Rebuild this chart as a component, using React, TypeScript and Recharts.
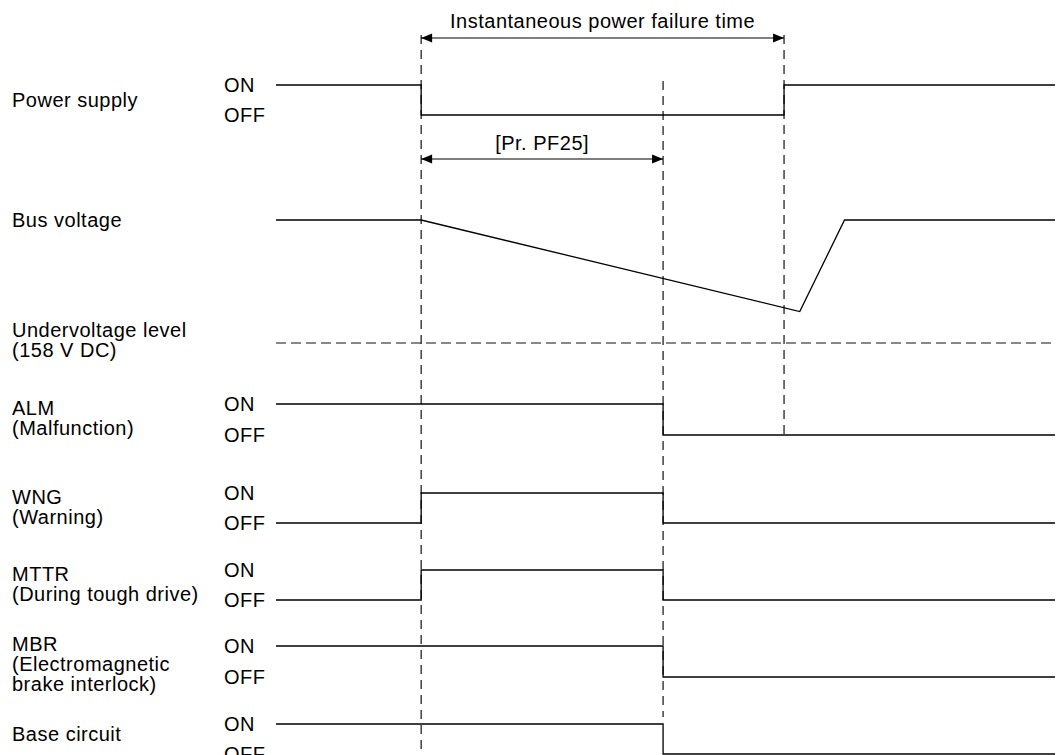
import React from 'react';
import { LineChart, Line, XAxis, YAxis, ReferenceLine } from 'recharts';

// ---------------- data (time in ms, t = 0 : power failure) ----------------
const TIME_START = -120;
const TIME_END = 524;
const T_FAIL = 0;
const T_PF25 = 200;
const T_RESTORE = 300;

const powerTimes = [-120, 0, 300, 524];
const powerStates = [1, 0, 1, 1];

const busTimes = [-120, 0, 313, 350, 524];
const busVolts = [283, 283, 190, 283, 283];
const BUS_NOMINAL = 283;
const UNDERVOLTAGE = 158;

const almTimes = [-120, 200, 524];
const almStates = [1, 0, 0];

const wngTimes = [-120, 0, 200, 524];
const wngStates = [0, 1, 0, 0];

const mttrTimes = [-120, 0, 200, 524];
const mttrStates = [0, 1, 0, 0];

const mbrTimes = [-120, 200, 524];
const mbrStates = [1, 0, 0];

const baseTimes = [-120, 200, 524];
const baseStates = [1, 0, 0];

const signalNames = [
  ['Power supply'],
  ['Bus voltage'],
  ['Undervoltage level', '(158 V DC)'],
  ['ALM', '(Malfunction)'],
  ['WNG', '(Warning)'],
  ['MTTR', '(During tough drive)'],
  ['MBR', '(Electromagnetic', 'brake interlock)'],
  ['Base circuit'],
];
const ON_TEXT = 'ON';
const OFF_TEXT = 'OFF';
const FAILURE_TEXT = 'Instantaneous power failure time';
const PF25_TEXT = '[Pr. PF25]';

// ---------------- layout ----------------
const W = 1057;
const H = 755;
const LABEL_WIDTH = 276;
const FONT = '"Liberation Sans", Arial, Helvetica, sans-serif';
const FONT_SIZE = 20;
const LINE_PITCH = 20;
const NAME_X = 12;
const STATE_X = 224;

// per signal: pixel rows of ON / OFF levels and first-line baseline of the name
const rowLayout = [
  { on: 85, off: 115, name: 107 },
  { on: null, off: null, name: 227 },
  { on: null, off: null, name: 337 },
  { on: 404, off: 435, name: 415 },
  { on: 493, off: 523, name: 504 },
  { on: 570, off: 600, name: 581 },
  { on: 646, off: 677, name: 651 },
  { on: 724, off: 754, name: 741 },
];
const BUS_NOMINAL_PX = 220;
const BUS_UV_PX = 343;
const ARROW_FAIL_PX = 38;
const ARROW_PF25_PX = 159;

function domainThrough(v1: number, px1: number, v0: number, px0: number): [number, number] {
  const slope = (px0 - px1) / (v1 - v0);
  const hi = v1 + px1 / slope;
  const lo = hi - H / slope;
  return [lo, hi];
}

const series = (times: number[], vals: number[]) => times.map((t, i) => ({ t, v: vals[i] }));

const digital = [
  { id: 'power', row: 0, data: series(powerTimes, powerStates) },
  { id: 'alm', row: 3, data: series(almTimes, almStates) },
  { id: 'wng', row: 4, data: series(wngTimes, wngStates) },
  { id: 'mttr', row: 5, data: series(mttrTimes, mttrStates) },
  { id: 'mbr', row: 6, data: series(mbrTimes, mbrStates) },
  { id: 'base', row: 7, data: series(baseTimes, baseStates) },
];

const busData = series(busTimes, busVolts);
const uvData = [
  { t: TIME_START, v: UNDERVOLTAGE },
  { t: TIME_END, v: UNDERVOLTAGE },
];

// frame elements on the pixel-row ("lanes") axis
const vFail = [{ t: T_FAIL, v: 35 }, { t: T_FAIL, v: H }];
const vPf25 = [{ t: T_PF25, v: 81 }, { t: T_PF25, v: 717 }];
const vRestore = [{ t: T_RESTORE, v: 35 }, { t: T_RESTORE, v: 438 }];
const arrowFail = [{ t: T_FAIL, v: ARROW_FAIL_PX }, { t: T_RESTORE, v: ARROW_FAIL_PX }];
const arrowPf25 = [{ t: T_FAIL, v: ARROW_PF25_PX }, { t: T_PF25, v: ARROW_PF25_PX }];

const textStyle = { fontFamily: FONT, fontSize: FONT_SIZE, fill: '#000', letterSpacing: 0.5 };

const LabelTick = (props: any) => {
  const { payload, y } = props;
  const idx = rowLayout.findIndex((r) => r.name === payload.value);
  if (idx < 0) return <g />;
  const r = rowLayout[idx];
  return (
    <g>
      {signalNames[idx].map((s, i) => (
        <text key={i} x={NAME_X} y={y + i * LINE_PITCH} {...textStyle}>
          {s}
        </text>
      ))}
      {r.on != null && (
        <text x={STATE_X} y={y + (r.on - r.name) + 7} {...textStyle}>
          {ON_TEXT}
        </text>
      )}
      {r.off != null && (
        <text x={STATE_X} y={y + (r.off - r.name) + 7} {...textStyle}>
          {OFF_TEXT}
        </text>
      )}
    </g>
  );
};

const ArrowHead = (props: any) => {
  const { cx, cy, index } = props;
  if (cx == null || cy == null) return <g key={`n${index}`} />;
  const d = index === 0 ? 1 : -1;
  const pts = `${cx},${cy} ${cx + d * 11},${cy - 4.5} ${cx + d * 11},${cy + 4.5}`;
  return <polygon key={`a${index}`} points={pts} fill="#000" stroke="none" />;
};

const SOLID = { stroke: '#000', strokeWidth: 1.3 };
const DASH = { stroke: '#111', strokeWidth: 1.2, strokeDasharray: '9 6' };

export default function App() {
  const lineCommon = { dot: false, activeDot: false, isAnimationActive: false, dataKey: 'v' } as any;
  return (
    <div style={{ position: 'absolute', left: 0, top: 0, width: W, height: H, background: '#fff', fontFamily: FONT }}>
      <LineChart width={W} height={H} margin={{ top: 0, right: 2, bottom: 0, left: 0 }}>
        <XAxis dataKey="t" type="number" domain={[TIME_START, TIME_END]} allowDataOverflow hide />
        <YAxis
          yAxisId="lanes"
          type="number"
          domain={[0, H]}
          reversed
          allowDataOverflow
          width={LABEL_WIDTH}
          axisLine={false}
          tickLine={false}
          ticks={rowLayout.map((r) => r.name)}
          interval={0}
          tick={(p: any) => <LabelTick {...p} />}
        />
        <YAxis
          yAxisId="bus"
          type="number"
          hide
          allowDataOverflow
          domain={domainThrough(BUS_NOMINAL, BUS_NOMINAL_PX, UNDERVOLTAGE, BUS_UV_PX)}
        />
        {digital.map((s) => (
          <YAxis
            key={s.id}
            yAxisId={s.id}
            type="number"
            hide
            allowDataOverflow
            domain={domainThrough(1, rowLayout[s.row].on as number, 0, rowLayout[s.row].off as number)}
          />
        ))}

        {/* dashed timing markers */}
        <Line {...lineCommon} yAxisId="lanes" data={vFail} type="linear" {...DASH} />
        <Line {...lineCommon} yAxisId="lanes" data={vPf25} type="linear" {...DASH} />
        <Line {...lineCommon} yAxisId="lanes" data={vRestore} type="linear" {...DASH} />
        <Line {...lineCommon} yAxisId="bus" data={uvData} type="linear" {...DASH} strokeDasharray="10 5" />

        {/* dimension arrows */}
        <Line {...lineCommon} yAxisId="lanes" data={arrowFail} type="linear" stroke="#000" strokeWidth={1.2} dot={(p: any) => <ArrowHead {...p} />} />
        <Line {...lineCommon} yAxisId="lanes" data={arrowPf25} type="linear" stroke="#000" strokeWidth={1.2} dot={(p: any) => <ArrowHead {...p} />} />
        <ReferenceLine
          yAxisId="lanes"
          segment={[{ x: T_FAIL, y: ARROW_FAIL_PX }, { x: T_RESTORE, y: ARROW_FAIL_PX }]}
          stroke="transparent"
          ifOverflow="visible"
          label={{ value: FAILURE_TEXT, position: 'top', offset: 10, ...textStyle }}
        />
        <ReferenceLine
          yAxisId="lanes"
          segment={[{ x: T_FAIL, y: ARROW_PF25_PX }, { x: T_PF25, y: ARROW_PF25_PX }]}
          stroke="transparent"
          ifOverflow="visible"
          label={{ value: PF25_TEXT, position: 'top', offset: 9, ...textStyle }}
        />

        {/* signals */}
        <Line {...lineCommon} yAxisId="bus" data={busData} type="linear" {...SOLID} />
        {digital.map((s) => (
          <Line key={s.id} {...lineCommon} yAxisId={s.id} data={s.data} type="stepAfter" {...SOLID} />
        ))}
      </LineChart>
    </div>
  );
}
